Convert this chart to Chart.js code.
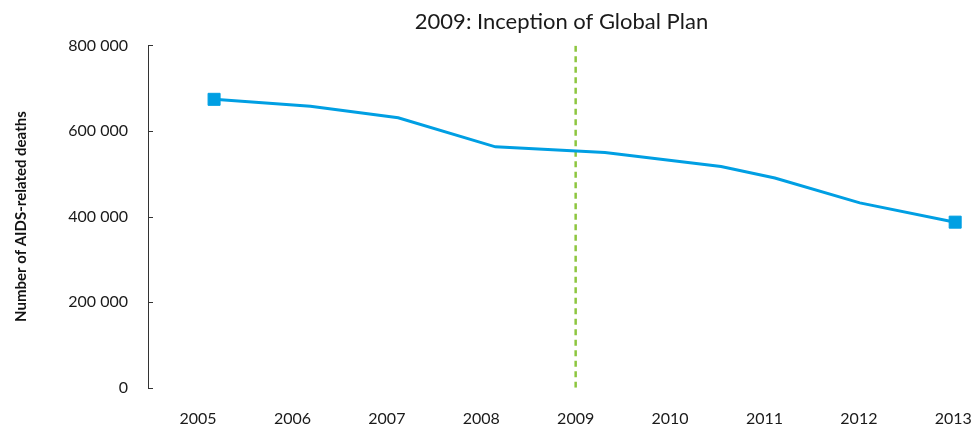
<!DOCTYPE html>
<html>
<head>
<meta charset="utf-8">
<script src="https://cdn.jsdelivr.net/npm/chart.js@4"></script>
<style>
  html, body { margin: 0; padding: 0; background: #fff; }
  #wrap { width: 975px; height: 428px; }
</style>
</head>
<body>
<div id="wrap"><canvas id="deathsChart"></canvas></div>
<script>
// tick labels on the year axis
const years = [2005, 2006, 2007, 2008, 2009, 2010, 2011, 2012, 2013];
// where each point sits along the year axis
const pointYears = [2005.17, 2006.19, 2007.12, 2008.15, 2009.31, 2010.54, 2011.11, 2012.01, 2013.02];
// number of AIDS-related deaths
const deaths = [674000, 658000, 631000, 563000, 550000, 517000, 490000, 432000, 387000];
const yTicks = [0, 200000, 400000, 600000, 800000];
const planYear = 2009;
const planLabel = '2009: Inception of Global Plan';

const fmt = v => String(v).replace(/\B(?=(\d{3})+(?!\d))/g, ' ');

// short tick marks pointing into the plot from the y axis
const innerTicks = {
    id: 'innerTicks',
    afterDraw(chart) {
        const y = chart.scales.y;
        const ctx = chart.ctx;
        ctx.save();
        ctx.strokeStyle = '#333';
        ctx.lineWidth = 1;
        yTicks.forEach(v => {
            const py = Math.round(y.getPixelForValue(v)) + 0.5;
            ctx.beginPath();
            ctx.moveTo(y.right, py);
            ctx.lineTo(y.right + 5, py);
            ctx.stroke();
        });
        ctx.restore();
    }
};

const ctx = document.getElementById('deathsChart').getContext('2d');
const deathsChart = new Chart(ctx, {
    type: 'line',
    data: {
        datasets: [{
            label: 'AIDS-related deaths',
            data: pointYears.map((x, i) => ({ x: x, y: deaths[i] })),
            borderColor: '#009fe3',
            backgroundColor: '#009fe3',
            borderWidth: 3,
            tension: 0,
            pointStyle: 'rect',
            pointRadius: c => (c.dataIndex === 0 || c.dataIndex === deaths.length - 1) ? 8.5 : 0,
            pointBorderWidth: 1,
            clip: false
        }, {
            label: planLabel,
            data: [{ x: planYear, y: yTicks[0] }, { x: planYear, y: yTicks[yTicks.length - 1] }],
            borderColor: '#8dc63f',
            borderWidth: 2.5,
            borderDash: [6, 4.5],
            pointRadius: 0
        }]
    },
    options: {
        responsive: true,
        maintainAspectRatio: false,
        animation: false,
        layout: { padding: 0, autoPadding: false },
        plugins: {
            legend: { display: false },
            tooltip: { enabled: false },
            title: {
                display: true,
                text: planLabel,
                fullSize: false,
                color: '#1a1a1a',
                font: { family: 'Lato', size: 22, weight: 'normal' },
                padding: { top: 9, bottom: 10 }
            }
        },
        scales: {
            x: {
                type: 'linear',
                min: 2004.47,
                max: 2013.23,
                afterBuildTicks: s => { s.ticks = years.map(v => ({ value: v })); },
                afterFit: s => { s.paddingLeft = 0; s.paddingRight = 0; },
                grid: { display: false, drawTicks: true, tickLength: 21 },
                border: { display: false },
                ticks: {
                    autoSkip: false,
                    maxRotation: 0,
                    padding: 0,
                    color: '#1a1a1a',
                    font: { family: 'Lato', size: 16 },
                    callback: v => String(v)
                }
            },
            y: {
                min: 0,
                max: 800000,
                afterBuildTicks: s => { s.ticks = yTicks.map(v => ({ value: v })); },
                afterFit: s => { s.width = 148; },
                grid: { display: false, drawTicks: true, tickLength: 20 },
                border: { display: true, color: '#333', width: 1 },
                ticks: {
                    padding: 0,
                    color: '#1a1a1a',
                    font: { family: 'Lato', size: 16 },
                    callback: v => fmt(v)
                },
                title: {
                    display: true,
                    text: 'Number of AIDS-related deaths',
                    color: '#111',
                    font: { family: 'Lato', size: 15, weight: 'bold' },
                    padding: { top: 12, bottom: 0 }
                }
            }
        }
    },
    plugins: [innerTicks]
});
</script>
</body>
</html>
